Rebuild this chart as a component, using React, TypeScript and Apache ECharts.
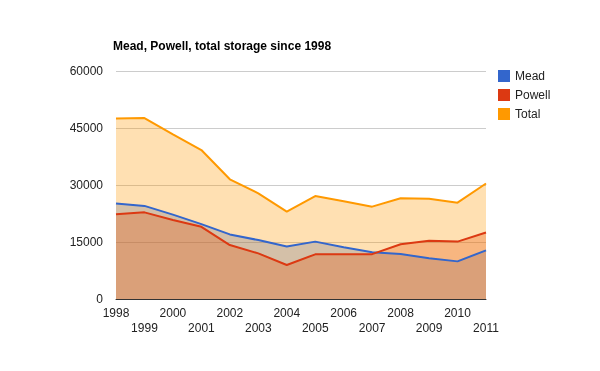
import React, { useEffect, useRef } from "react";
import * as echarts from "echarts";

const years = ["1998","1999","2000","2001","2002","2003","2004","2005","2006","2007","2008","2009","2010","2011"];
const mead = [25100, 24500, 22200, 19700, 17000, 15500, 13800, 15100, 13600, 12300, 11850, 10700, 9900, 12800];
const powell = [22300, 22800, 20800, 19000, 14200, 12000, 8950, 11750, 11750, 11800, 14400, 15300, 15100, 17500];
const total = [47500, 47600, 43300, 39200, 31500, 27800, 23000, 27100, 25700, 24300, 26500, 26400, 25350, 30400];
const yTicks = [0, 15000, 30000, 45000, 60000];

const FONT = "'Liberation Sans', Arial, sans-serif";

export default function App() {
  const ref = useRef<HTMLDivElement>(null);
  useEffect(() => {
    const chart = echarts.init(ref.current!, null, { renderer: "svg" });
    const mk = (name: string, data: number[], color: string) => ({
      name,
      type: "line",
      data,
      showSymbol: false,
      symbol: "none",
      lineStyle: { width: 2, color },
      itemStyle: { color },
      areaStyle: { color, opacity: 0.3 },
    });
    chart.setOption({
      animation: false,
      title: {
        text: "Mead, Powell, total storage since 1998",
        left: 108,
        top: 35,
        textStyle: { fontFamily: FONT, fontSize: 12, fontWeight: "bold", color: "#000" },
      },
      legend: {
        orient: "vertical",
        left: 493,
        top: 65,
        itemWidth: 12,
        itemHeight: 12,
        itemGap: 7,
        icon: "rect",
        textStyle: { fontFamily: FONT, fontSize: 12, color: "#222" },
        data: ["Mead", "Powell", "Total"],
      },
      grid: { left: 116, right: 114, top: 71, bottom: 72, containLabel: false },
      xAxis: {
        type: "category",
        data: years,
        boundaryGap: false,
        axisLine: { lineStyle: { color: "#333", width: 1 } },
        axisTick: { show: false },
        axisLabel: {
          interval: 0,
          margin: 6,
          fontFamily: FONT,
          fontSize: 12,
          color: "#222",
          lineHeight: 15,
          formatter: (v: string, i: number) => (i % 2 === 1 ? "\n" + v : v),
        },
      },
      yAxis: {
        type: "value",
        min: yTicks[0],
        max: yTicks[yTicks.length - 1],
        interval: 15000,
        axisLine: { show: false },
        axisTick: { show: false },
        splitLine: { lineStyle: { color: "#ccc" } },
        axisLabel: {
          fontFamily: FONT,
          fontSize: 12,
          color: "#222",
          margin: 13,
          formatter: (v: number) => String(v),
        },
      },
      series: [
        mk("Mead", mead, "#3366CC"),
        mk("Powell", powell, "#DC3912"),
        mk("Total", total, "#FF9900"),
      ],
    });
    return () => chart.dispose();
  }, []);
  return <div ref={ref} style={{ position: "fixed", left: 0, top: 0, width: 600, height: 371 }} />;
}
